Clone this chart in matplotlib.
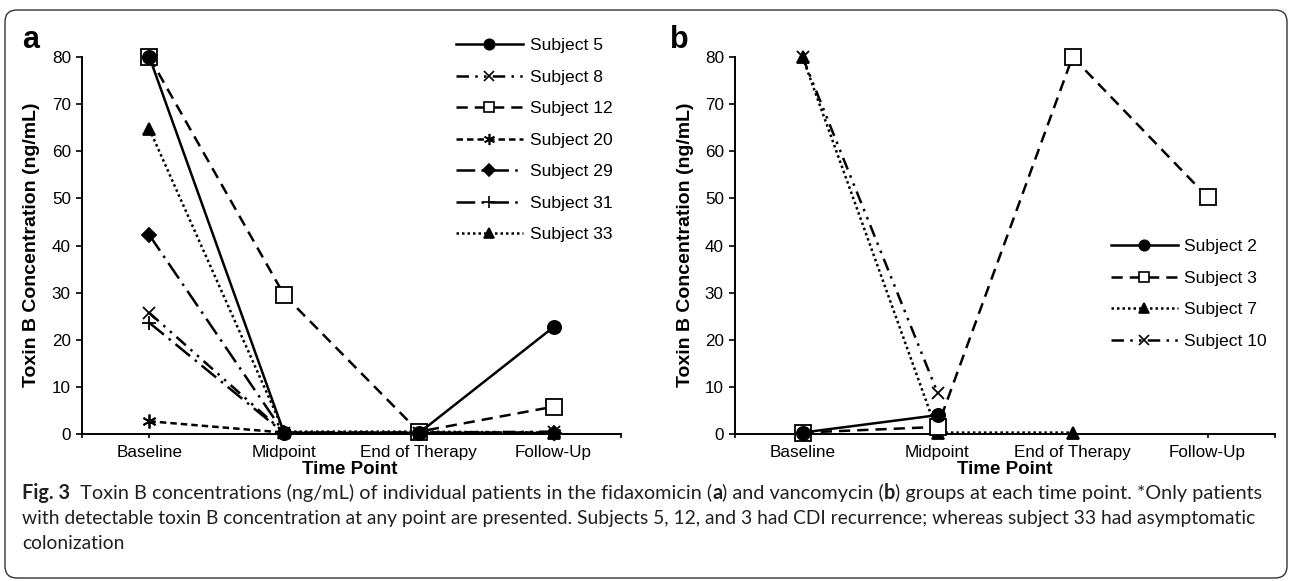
import numpy as np
import matplotlib
matplotlib.use("Agg")
import matplotlib.pyplot as plt
from matplotlib.lines import Line2D
from matplotlib.patches import FancyBboxPatch
from matplotlib.transforms import IdentityTransform

# ---------------- data ----------------
categories = ["Baseline", "Midpoint", "End of Therapy", "Follow-Up"]
y_ticks = [0, 10, 20, 30, 40, 50, 60, 70, 80]

# panel a (fidaxomicin)
a_labels = ["Subject 5", "Subject 8", "Subject 12", "Subject 20",
            "Subject 29", "Subject 31", "Subject 33"]
a_s5 = [80.0, 0.2, 0.2, 22.7]
a_s8 = [25.7, 0.3, 0.3, 0.5]
a_s12 = [80.0, 29.5, 0.5, 5.8]
a_s20 = [2.7, 0.3, 0.3, 0.3]
a_s29 = [42.2, 0.2, 0.2, 0.2]
a_s31 = [23.6, 0.2, 0.2, 0.2]
a_s33 = [64.7, 0.5, 0.5, 0.3]

# panel b (vancomycin)
b_labels = ["Subject 2", "Subject 3", "Subject 7", "Subject 10"]
b_s2 = [0.3, 4.0, np.nan, np.nan]
b_s3 = [0.3, 1.5, 80.0, 50.3]
b_s7 = [80.0, 0.3, 0.3, np.nan]
b_s10 = [80.0, 8.8, np.nan, np.nan]

caption_lines = [
    [("Fig. 3", "bold"),
     ("  Toxin B concentrations (ng/mL) of individual patients in the fidaxomicin (", "normal"),
     ("a", "bold"), (") and vancomycin (", "normal"), ("b", "bold"),
     (") groups at each time point. *Only patients", "normal")],
    [("with detectable toxin B concentration at any point are presented. Subjects 5, 12, and 3 "
      "had CDI recurrence; whereas subject 33 had asymptomatic", "normal")],
    [("colonization", "normal")],
]

# ---------------- styles ----------------
FONT = "Liberation Sans"
CAPFONT = "Lato"
LW = 1.8

styles = {
    "Subject 5": dict(ls="-", marker="o", ms=9.5, mfc="black", lms=7.5),
    "Subject 8": dict(ls=(0, (5, 2.5, 1, 2.5, 1, 2.5)), marker="x", ms=9, mfc="black", lms=7),
    "Subject 12": dict(ls=(0, (4.5, 2.8)), marker="s", ms=12, mfc="white", lms=7),
    "Subject 20": dict(ls=(0, (2.6, 1.6)), marker=(6, 2, 0), ms=10, mfc="black", lms=8),
    "Subject 29": dict(ls=(0, (7.5, 2.5, 1, 2.5)), marker="D", ms=7, mfc="black", lms=6),
    "Subject 31": dict(ls=(0, (7.5, 2.5, 1, 2.5)), marker="+", ms=10, mfc="black", lms=8),
    "Subject 33": dict(ls=(0, (1, 1.2)), marker="^", ms=9, mfc="black", lms=7.5),
    "Subject 2": dict(ls="-", marker="o", ms=9.5, mfc="black", lms=7.5),
    "Subject 3": dict(ls=(0, (4.5, 2.8)), marker="s", ms=12, mfc="white", lms=7),
    "Subject 7": dict(ls=(0, (1, 1.2)), marker="^", ms=9, mfc="black", lms=7.5),
    "Subject 10": dict(ls=(0, (5, 2.5, 1, 2.5, 1, 2.5)), marker="x", ms=9, mfc="black", lms=7),
}

W, H = 1290, 581
fig = plt.figure(figsize=(W / 100, H / 100), dpi=100)
fig.patch.set_facecolor("white")


def fx(px):
    return px / W


def fy(py):
    return 1 - py / H


Y0, Y80 = 434, 57
ax_a = fig.add_axes([fx(82), fy(Y0), (621 - 82) / W, (Y0 - Y80) / H])
ax_b = fig.add_axes([fx(735), fy(Y0), (1275 - 735) / W, (Y0 - Y80) / H])

xpos = np.arange(len(categories)) + 0.5


def draw_panel(ax, labels, series):
    handles = []
    n = len(labels)
    for i, (lab, vals) in enumerate(zip(labels, series)):
        st = styles[lab]
        ax.plot(xpos, vals, color="black", lw=LW, ls=st["ls"], marker=st["marker"],
                ms=st["ms"], mfc=st["mfc"], mec="black", mew=1.3, clip_on=False,
                dash_capstyle="butt", zorder=3 + (n - i) * 0.1)
        handles.append(Line2D([], [], color="black", lw=LW, ls=st["ls"], marker=st["marker"],
                              ms=st["lms"], mfc=st["mfc"], mec="black", mew=1.2))
    ax.set_xlim(0, 4)
    ax.set_ylim(0, 80)
    ax.set_yticks(y_ticks)
    ax.set_yticklabels([str(v) for v in y_ticks], fontsize=12.3, family=FONT)
    ax.set_xticks(xpos)
    ax.set_xticklabels(categories, fontsize=12.3, family=FONT)
    ax.set_xticks([0, 4], minor=True)
    for s in ["top", "right"]:
        ax.spines[s].set_visible(False)
    for s in ["left", "bottom"]:
        ax.spines[s].set_linewidth(1.4)
        ax.spines[s].set_color("black")
    ax.tick_params(axis="y", direction="out", length=4, width=1.2, pad=4)
    ax.tick_params(axis="x", which="both", direction="out", length=3, width=1.2, pad=5)
    ax.set_facecolor("none")
    return handles


h_a = draw_panel(ax_a, a_labels, [a_s5, a_s8, a_s12, a_s20, a_s29, a_s31, a_s33])
h_b = draw_panel(ax_b, b_labels, [b_s2, b_s3, b_s7, b_s10])

leg_kw = dict(frameon=False, loc="upper left", borderpad=0, borderaxespad=0,
              handlelength=3.8, handletextpad=0.4, labelspacing=0.93,
              prop=dict(family=FONT, size=12.6))
fig.legend(h_a, a_labels, bbox_to_anchor=(fx(456), fy(38)), **leg_kw)
fig.legend(h_b, b_labels, bbox_to_anchor=(fx(1111), fy(239)), **leg_kw)

# panel letters
fig.text(fx(22), fy(48), "a", fontsize=22, fontweight="bold", family=FONT, va="baseline")
fig.text(fx(670), fy(48), "b", fontsize=22, fontweight="bold", family=FONT, va="baseline")

# axis labels
for cx in (32, 686):
    fig.text(fx(cx), fy(245), "Toxin B Concentration (ng/mL)", rotation=90,
             fontsize=14, fontweight="bold", family=FONT, ha="center", va="center")
for cx in (350, 1005):
    fig.text(fx(cx), fy(469), "Time Point", fontsize=13.5, fontweight="bold",
             family=FONT, ha="center", va="center")

# caption
renderer = fig.canvas.get_renderer()


def draw_runs(x0, ybase, runs, size, keep=True):
    x = x0
    made = []
    for txt, wt in runs:
        t = fig.text(x / W, fy(ybase), txt, fontsize=size, fontweight=wt, family=CAPFONT,
                     va="baseline", ha="left", color="#231f20")
        bb = t.get_window_extent(renderer=renderer)
        x += bb.width
        made.append(t)
    if not keep:
        for t in made:
            t.remove()
    return x - x0


def fit_size(runs, target):
    trial = 12.0
    w = draw_runs(22, 500, runs, trial, keep=False)
    return trial * target / w


size1 = fit_size(caption_lines[0], 1256 - 22)
size2 = fit_size(caption_lines[1], 1254 - 22)
sizes = [size1, size2, size2]
for i, runs in enumerate(caption_lines):
    draw_runs(22, 499 + 25 * i, runs, sizes[i])

# rounded border
border = FancyBboxPatch((5, H - 578), 1282, 568, boxstyle="round,pad=0,rounding_size=12",
                        transform=IdentityTransform(), fill=False, lw=1.0, ec="#333333")
fig.add_artist(border)

fig.savefig("out.png", dpi=100)
